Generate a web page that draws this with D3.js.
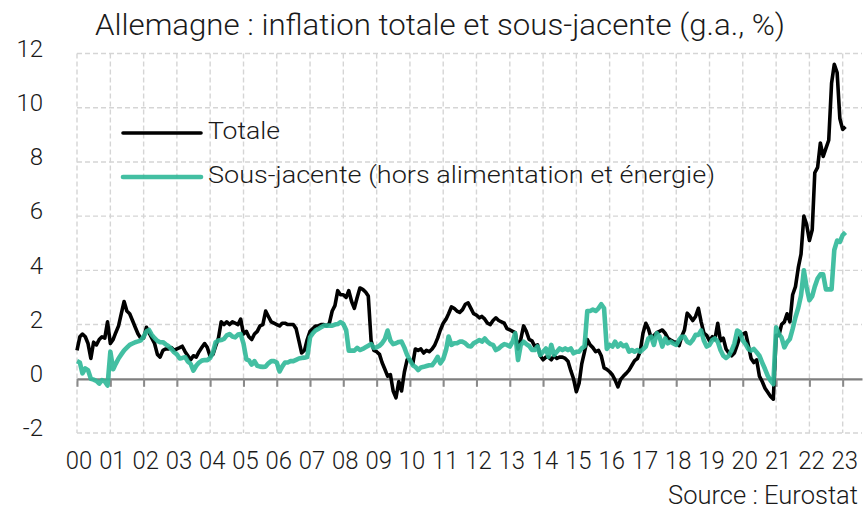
<!DOCTYPE html>
<html><head><meta charset="utf-8">
<script src="https://cdn.jsdelivr.net/npm/d3@7"></script>
<style>
body{margin:0;background:#fff}
svg text{font-family:Roboto,"Open Sans",sans-serif;font-weight:300;fill:#1a1a1a}
</style>
</head><body>
<svg id="chart" width="865" height="510"></svg>
<script>
// ---- Data (monthly, Jan 2000 -> Feb 2023) ----
const startYear = 2000;
const totale = [
 1.05,1.55,1.65,1.55,1.3,0.75,1.35,1.25,1.45,1.55,1.5,2.1,
 1.3,1.45,1.7,1.95,2.4,2.85,2.5,2.4,2.15,1.9,1.65,1.5,
 1.5,1.9,1.7,1.5,1.3,0.9,0.8,1.05,1.1,1.1,1.15,1.05,
 1.1,1.15,1.2,1.0,0.85,0.7,0.85,0.8,1.0,1.15,1.3,1.15,
 0.82,0.9,1.2,1.5,2.1,2.0,2.1,2.0,2.1,2.05,2.0,2.2,
 1.65,1.75,1.55,1.45,1.65,1.75,1.95,2.0,2.5,2.3,2.1,2.05,
 2.0,1.95,2.05,2.05,2.0,2.0,2.0,1.85,1.4,0.95,1.05,1.45,
 1.75,1.85,1.95,1.95,2.0,2.0,1.95,2.05,2.5,2.7,3.25,3.1,
 3.1,3.0,3.25,2.85,2.6,3.0,3.35,3.3,3.2,3.05,1.4,1.05,
 1.0,0.9,0.6,0.35,0.1,0.15,-0.45,-0.7,-0.1,-0.45,0.25,0.7,
 0.7,0.55,1.1,1.05,1.1,0.95,1.05,1.0,1.1,1.25,1.5,1.8,
 2.05,2.2,2.4,2.65,2.6,2.5,2.45,2.55,2.75,2.8,2.6,2.4,
 2.35,2.25,2.3,2.2,2.05,2.0,2.15,2.25,2.15,2.1,2.05,1.85,
 1.8,1.75,1.7,1.1,1.45,1.95,1.75,1.45,1.4,1.2,1.25,0.85,
 0.7,0.8,0.8,0.7,0.85,0.75,0.8,0.8,0.75,0.65,0.3,0.0,
 -0.48,-0.15,0.55,1.0,1.45,1.25,1.15,1.0,1.05,0.85,0.4,0.35,
 0.26,0.14,-0.05,-0.3,-0.02,0.1,0.2,0.32,0.5,0.67,0.75,1.0,
 1.68,2.05,1.85,1.5,1.6,1.7,1.75,1.8,1.68,1.5,1.43,1.37,
 1.35,1.22,1.55,1.8,2.42,2.3,2.15,2.3,2.6,2.1,1.68,1.6,
 1.4,1.55,1.45,2.05,1.4,1.5,1.1,0.95,0.85,0.95,1.25,1.55,
 1.65,1.7,1.25,0.75,0.6,0.7,0.1,-0.1,-0.35,-0.5,-0.65,-0.75,
 1.6,1.6,2.0,2.1,2.4,2.1,3.1,3.4,4.1,4.6,6.0,5.7,
 5.1,5.5,7.6,7.8,8.7,8.2,8.5,8.8,10.9,11.6,11.3,9.6,
 9.2,9.3
];
const sousJacente = [
 0.65,0.6,0.2,0.38,0.32,0.0,-0.03,-0.08,-0.18,-0.05,-0.1,-0.25,
 1.0,0.35,0.55,0.75,0.9,1.05,1.15,1.25,1.3,1.35,1.38,1.42,
 1.55,1.75,1.8,1.62,1.5,1.4,1.35,1.35,1.27,1.2,1.1,0.98,
 0.9,0.75,0.77,0.8,0.64,0.55,0.3,0.48,0.6,0.67,0.69,0.69,
 0.77,0.98,1.35,1.41,1.43,1.47,1.6,1.65,1.56,1.53,1.63,1.65,
 1.3,0.72,0.68,0.52,0.65,0.48,0.45,0.44,0.45,0.57,0.65,0.65,
 0.6,0.27,0.45,0.6,0.6,0.65,0.65,0.7,0.75,0.77,0.78,0.8,
 1.53,1.68,1.78,1.84,1.9,1.96,1.96,1.96,1.96,2.0,2.02,2.09,
 2.02,1.8,1.04,1.04,1.04,1.14,1.06,1.1,1.16,1.22,1.28,1.14,
 1.16,1.22,1.31,1.47,1.78,1.41,1.28,1.31,1.36,1.37,1.15,0.88,
 0.69,0.5,0.44,0.32,0.42,0.44,0.47,0.5,0.5,0.63,0.81,0.57,
 0.73,1.06,1.56,1.25,1.31,1.31,1.37,1.37,1.31,1.21,1.19,1.31,
 1.37,1.43,1.37,1.49,1.37,1.28,1.25,1.06,1.12,1.21,1.28,1.25,
 1.19,1.37,1.68,0.69,1.25,1.37,1.28,1.21,1.06,1.06,1.19,0.88,
 1.0,1.12,0.81,1.25,0.88,1.0,1.12,1.06,1.12,1.06,1.12,0.94,
 1.0,1.0,1.12,1.2,2.5,2.5,2.55,2.5,2.6,2.75,2.6,1.1,
 1.25,1.19,1.37,1.19,1.3,1.2,1.25,1.0,1.06,1.0,1.06,1.0,
 1.09,1.19,1.49,1.55,1.25,1.68,1.55,1.19,1.49,1.31,1.37,1.3,
 1.25,1.43,1.55,1.55,1.37,1.31,1.43,1.62,1.62,1.78,1.4,1.19,
 1.25,1.43,1.49,1.37,1.06,0.85,0.77,0.85,1.05,1.3,1.78,1.72,
 1.41,1.28,1.1,1.04,1.1,0.98,0.85,0.6,0.36,0.11,-0.07,-0.2,
 1.9,1.65,1.53,1.16,1.35,1.47,1.84,2.27,2.62,3.07,4.0,3.38,
 2.9,3.05,3.4,3.7,3.85,3.85,3.3,3.3,3.3,4.75,5.1,5.05,
 5.3,5.4
];
const yearLabels = ["00","01","02","03","04","05","06","07","08","09","10","11",
                    "12","13","14","15","16","17","18","19","20","21","22","23"];
const yTicks = [-2,0,2,4,6,8,10,12];
const seriesNames = ["Totale","Sous-jacente (hors alimentation et énergie)"];
const titleText = "Allemagne : inflation totale et sous-jacente (g.a., %)";
const sourceText = "Source : Eurostat";

// ---- Chart ----
const svg = d3.select("#chart");
const mLeft = 77, mRight = 862, mTop = 53.5, mBottom = 433;
const teal = "#2fb898";

const x = d3.scaleTime()
  .domain([new Date(startYear,0,1), new Date(2023,7,1)])
  .range([mLeft, mRight]);
const y = d3.scaleLinear().domain([-2,12]).range([mBottom, mTop]);

const yearDates = yearLabels.map((d,i)=>new Date(startYear+i,0,1));
const dateOf = i => new Date(startYear, i, 1);

// grid
const g = svg.append("g");
g.selectAll("line.h").data(yTicks.filter(v=>v!==0)).join("line")
  .attr("x1", mLeft).attr("x2", mRight)
  .attr("y1", d=>y(d)).attr("y2", d=>y(d))
  .attr("stroke","#d5d5d5").attr("stroke-width",1.4).attr("stroke-dasharray","5,3");
g.selectAll("line.v").data(yearDates).join("line")
  .attr("x1", d=>x(d)).attr("x2", d=>x(d))
  .attr("y1", y(12)).attr("y2", y(-2))
  .attr("stroke","#d5d5d5").attr("stroke-width",1.4).attr("stroke-dasharray","5,3");

// zero axis with year ticks
const zeroAxis = d3.axisBottom(x).tickValues(yearDates).tickSize(8).tickSizeOuter(0).tickFormat("");
const za = svg.append("g").attr("transform",`translate(0,${y(0)})`).call(zeroAxis);
za.select(".domain").attr("stroke","#7f7f7f").attr("stroke-width",2.2);
za.selectAll(".tick line").attr("stroke","#8a8a8a").attr("stroke-width",2);

// x labels
const xLab = d3.axisBottom(x).tickValues(yearDates).tickSize(0).tickPadding(10)
  .tickFormat((d,i)=>yearLabels[i]);
const xa = svg.append("g").attr("transform",`translate(1.5,${mBottom+7})`).call(xLab);
xa.select(".domain").remove();
xa.selectAll("text").attr("font-size",26.5)
  .style("font-family","Roboto,sans-serif").style("font-weight",300)
  .attr("transform","scale(0.9,1)").attr("fill","#1a1a1a");

// y labels
const yLab = d3.axisLeft(y).tickValues(yTicks).tickSize(0).tickPadding(4).tickFormat(d=>String(d));
const ya = svg.append("g").attr("transform",`translate(47,0)`).call(yLab);
ya.select(".domain").remove();
ya.selectAll("text").attr("font-size",24)
  .attr("transform","translate(0,-5)")
  .style("font-family","Roboto,sans-serif").style("font-weight",300)
  .attr("fill", d=> d<0 ? "#ff0000" : "#1a1a1a");

// lines
const line = d3.line().x((d,i)=>x(dateOf(i))).y(d=>y(d)).curve(d3.curveLinear);
svg.append("path").datum(totale).attr("d",line)
  .attr("fill","none").attr("stroke","#000").attr("stroke-width",3.6)
  .attr("stroke-linejoin","round");
svg.append("path").datum(sousJacente).attr("d",line)
  .attr("fill","none").attr("stroke",teal).attr("stroke-opacity",0.9).attr("stroke-width",4.6)
  .attr("stroke-linejoin","round");

// legend
const leg = svg.append("g");
const legItems = [
  {name:seriesNames[0], color:"#000", w:3.6, op:1, y:133, len:72},
  {name:seriesNames[1], color:teal, w:4.6, op:0.9, y:177, len:507}
];
legItems.forEach(it=>{
  leg.append("line").attr("x1",123).attr("x2",201).attr("y1",it.y).attr("y2",it.y)
    .attr("stroke",it.color).attr("stroke-width",it.w).attr("stroke-opacity",it.op).attr("stroke-linecap","round");
  leg.append("text").attr("x",208).attr("y",it.y+6).attr("font-size",23)
    .attr("textLength",it.len).attr("lengthAdjust","spacingAndGlyphs").text(it.name);
});

// title & source
svg.append("text").attr("x",95).attr("y",35).attr("font-size",29)
  .attr("textLength",690).attr("lengthAdjust","spacingAndGlyphs").text(titleText);
svg.append("text").attr("x",668).attr("y",504).attr("font-size",25)
  .attr("textLength",190).attr("lengthAdjust","spacingAndGlyphs").text(sourceText);
</script>
</body></html>
